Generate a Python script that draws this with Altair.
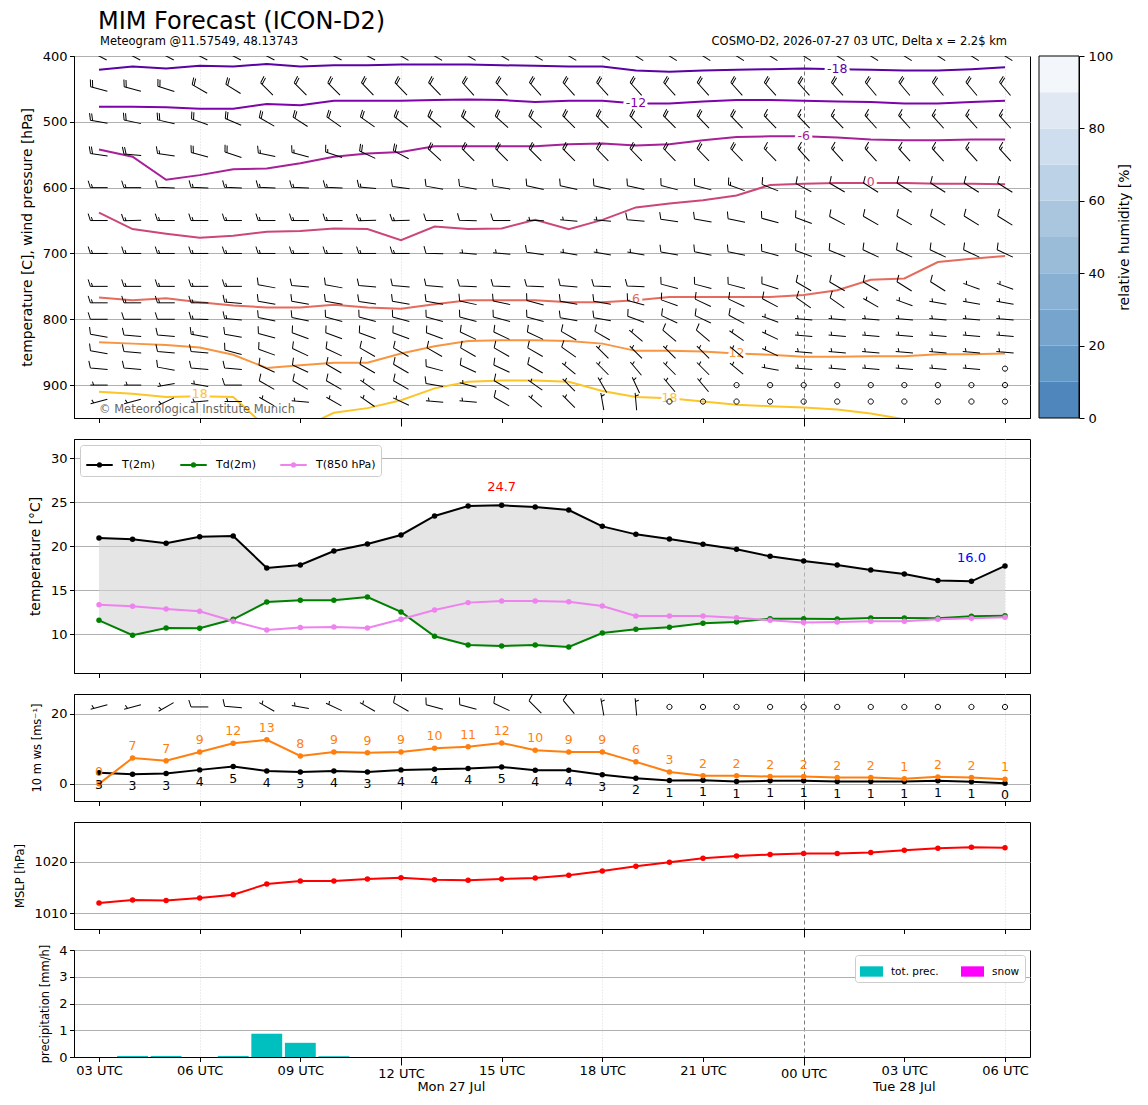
import altair as alt
import pandas as pd

# ------------------------------------------------------------------ data
HOURS = list(range(28))  # forecast hours after 2026-07-27 03 UTC
TICK_HOURS = [0, 3, 6, 9, 12, 15, 18, 21, 24, 27]
DATE_LABELS = ["Mon 27 Jul", "Tue 28 Jul"]
DATE_POS = [10.5, 24]

# panel 1: isotherms (pressure [hPa] of each isotherm per hour)
ISO_LEVELS = [-18, -12, -6, 0, 6, 12, 18]
ISO_M18 = [421, 416, 419, 415, 416, 412, 416, 414, 414, 413, 413, 413, 414, 415, 416, 416, 422, 424, 422, 421, 420, 419, 420, 421, 422, 422, 420, 417]
ISO_M12 = [477, 477, 478, 480, 480, 473, 475, 468, 468, 468, 467, 466, 467, 470, 468, 468, 472, 472, 469, 467, 467, 468, 469, 470, 472, 472, 470, 468]
ISO_M6 = [542, 553, 588, 581, 572, 571, 563, 553, 548, 546, 537, 537, 537, 537, 534, 533, 536, 534, 528, 523, 522, 522, 524, 527, 528, 528, 527, 527]
ISO_0 = [638, 663, 670, 676, 673, 667, 666, 662, 663, 680, 659, 663, 662, 649, 663, 649, 630, 624, 619, 612, 596, 594, 593, 593, 593, 594, 594, 595]
ISO_6 = [767, 771, 768, 774, 779, 782, 782, 778, 782, 784, 777, 771, 771, 771, 774, 774, 771, 766, 766, 766, 766, 763, 756, 740, 738, 713, 708, 704]
ISO_12 = [835, 837, 839, 843, 854, 874, 870, 866, 866, 852, 841, 833, 832, 832, 833, 837, 848, 848, 849, 852, 854, 857, 857, 856, 856, 853, 853, 852]
ISO_18 = [910, 913, 918, 917, 918, 965, 966, 942, 935, 923, 905, 895, 893, 893, 895, 909, 918, 920, 925, 930, 932, 934, 937, 943, 952, 956, 960, 963]
ISO_COLORS = ["#5b02a3", "#7e03a8", "#a62098", "#cb4679", "#e56b5d", "#f89540", "#fdc527"]

ISO_LABEL_TEXT = ["-18", "-12", "-6", "0", "6", "12", "18", "18"]
ISO_LABEL_H = [22, 16, 21, 23, 16, 19, 3, 17]
ISO_LABEL_P = [420, 472, 522, 592, 769, 851, 913, 920]
ISO_LABEL_COLORS = ["#5b02a3", "#7e03a8", "#a62098", "#cb4679", "#e56b5d", "#f89540", "#fdc527", "#fdc527"]

# panel 1: wind barbs (direction [deg], speed [kt]) per pressure level
BARB_LEVELS = [400, 450, 500, 550, 600, 650, 700, 750, 775, 800, 825, 850, 875, 900, 925]
WDIR_400 = [298, 298, 298, 298, 298, 298, 298, 298, 298, 300, 300, 300, 300, 300, 300, 300, 302, 302, 302, 302, 302, 302, 302, 302, 302, 302, 302, 302]
WSPD_400 = [20, 20, 20, 20, 20, 20, 20, 20, 20, 20, 20, 20, 20, 20, 20, 20, 20, 20, 20, 20, 20, 20, 20, 20, 20, 20, 20, 20]
WDIR_450 = [285, 285, 288, 300, 302, 315, 315, 315, 316, 316, 316, 318, 318, 318, 318, 318, 318, 318, 318, 318, 318, 318, 318, 320, 320, 320, 320, 320]
WSPD_450 = [20, 20, 20, 20, 20, 20, 20, 20, 20, 20, 20, 20, 20, 20, 20, 20, 20, 20, 20, 20, 20, 20, 20, 20, 20, 20, 20, 20]
WDIR_500 = [280, 282, 283, 290, 293, 300, 303, 305, 305, 308, 310, 310, 312, 312, 315, 315, 315, 315, 316, 316, 316, 316, 316, 318, 318, 318, 318, 318]
WSPD_500 = [20, 20, 20, 20, 20, 20, 20, 20, 20, 20, 20, 20, 20, 20, 20, 20, 20, 20, 20, 20, 15, 15, 15, 15, 15, 15, 15, 15]
WDIR_550 = [278, 275, 278, 285, 288, 282, 285, 288, 295, 298, 312, 315, 315, 315, 315, 316, 316, 316, 316, 316, 316, 318, 318, 318, 318, 318, 318, 318]
WSPD_550 = [20, 20, 15, 20, 20, 15, 15, 15, 20, 20, 20, 20, 20, 20, 20, 20, 20, 20, 20, 20, 15, 15, 15, 15, 15, 15, 15, 15]
WDIR_600 = [270, 270, 272, 272, 272, 272, 272, 272, 275, 278, 280, 280, 280, 282, 282, 283, 283, 285, 285, 290, 292, 298, 300, 302, 302, 302, 302, 302]
WSPD_600 = [15, 15, 10, 15, 15, 15, 15, 15, 15, 10, 10, 10, 10, 10, 10, 10, 10, 10, 10, 15, 10, 10, 10, 10, 10, 10, 10, 10]
WDIR_650 = [270, 268, 270, 270, 270, 270, 270, 270, 268, 268, 270, 272, 270, 272, 275, 275, 275, 278, 280, 282, 285, 290, 298, 300, 300, 302, 302, 302]
WSPD_650 = [15, 15, 15, 15, 15, 15, 15, 15, 15, 15, 10, 10, 10, 5, 5, 5, 10, 10, 10, 10, 10, 10, 10, 10, 10, 10, 10, 10]
WDIR_700 = [270, 270, 270, 270, 270, 270, 270, 270, 270, 270, 272, 275, 275, 278, 280, 280, 280, 280, 282, 282, 285, 290, 292, 295, 295, 295, 295, 295]
WSPD_700 = [15, 15, 15, 15, 15, 15, 15, 15, 15, 15, 10, 5, 5, 10, 5, 5, 5, 10, 10, 10, 10, 10, 10, 10, 10, 10, 10, 10]
WDIR_750 = [270, 270, 270, 270, 270, 280, 275, 280, 275, 275, 275, 272, 272, 272, 275, 272, 272, 285, 285, 285, 288, 300, 300, 300, 302, 302, 290, 290]
WSPD_750 = [15, 15, 15, 15, 15, 10, 10, 10, 10, 10, 10, 10, 10, 10, 10, 10, 10, 10, 10, 10, 10, 10, 10, 10, 10, 10, 5, 5]
WDIR_775 = [270, 270, 270, 270, 275, 280, 280, 280, 278, 280, 280, 282, 282, 285, 280, 280, 285, 290, 295, 295, 298, 305, 305, 300, 290, 280, 280, 280]
WSPD_775 = [15, 15, 15, 15, 15, 10, 10, 10, 10, 10, 10, 10, 10, 10, 10, 10, 10, 10, 10, 10, 10, 10, 10, 5, 5, 5, 5, 5]
WDIR_800 = [270, 270, 270, 272, 275, 282, 282, 285, 285, 285, 285, 285, 285, 285, 280, 280, 290, 295, 295, 298, 290, 275, 275, 275, 275, 275, 275, 275]
WSPD_800 = [10, 10, 10, 15, 15, 10, 10, 10, 10, 10, 10, 10, 10, 10, 10, 10, 10, 10, 10, 10, 5, 5, 5, 5, 5, 5, 5, 5]
WDIR_825 = [280, 275, 275, 280, 280, 285, 290, 290, 290, 290, 290, 295, 295, 295, 300, 300, 310, 310, 310, 305, 295, 275, 275, 275, 275, 275, 275, 275]
WSPD_825 = [10, 10, 10, 15, 10, 10, 10, 10, 10, 10, 10, 10, 10, 10, 10, 10, 5, 10, 10, 5, 5, 5, 5, 5, 5, 5, 5, 5]
WDIR_850 = [280, 275, 275, 275, 285, 290, 295, 295, 300, 300, 300, 300, 300, 300, 305, 315, 315, 315, 315, 310, 295, 275, 275, 275, 275, 275, 275, 275]
WSPD_850 = [10, 10, 10, 10, 10, 10, 10, 10, 10, 10, 10, 10, 10, 10, 10, 5, 5, 5, 5, 5, 5, 5, 5, 5, 5, 5, 5, 5]
WDIR_875 = [275, 275, 280, 275, 275, 295, 295, 300, 300, 300, 285, 295, 295, 300, 310, 315, 320, 315, 315, 310, 280, 275, 275, 275, 275, 275, 275, 0]
WSPD_875 = [10, 10, 10, 10, 10, 10, 10, 10, 10, 10, 10, 10, 10, 10, 5, 5, 5, 5, 5, 5, 5, 5, 5, 5, 5, 5, 5, 0]
WDIR_900 = [270, 270, 260, 280, 270, 300, 300, 300, 305, 300, 280, 285, 300, 305, 315, 330, 335, 320, 320, 0, 0, 0, 0, 0, 0, 0, 0, 0]
WSPD_900 = [5, 5, 5, 5, 10, 10, 10, 10, 5, 10, 10, 5, 10, 5, 5, 5, 5, 5, 5, 0, 0, 0, 0, 0, 0, 0, 0, 0]
WDIR_925 = [255, 255, 245, 265, 270, 300, 275, 300, 305, 295, 275, 275, 300, 310, 315, 350, 355, 0, 0, 0, 0, 0, 0, 0, 0, 0, 0, 0]
WSPD_925 = [5, 5, 5, 5, 5, 5, 5, 5, 5, 5, 5, 5, 10, 5, 5, 5, 5, 0, 0, 0, 0, 0, 0, 0, 0, 0, 0, 0]

# relative humidity colour bar
RH_EDGES = [0, 10, 20, 30, 40, 50, 60, 70, 80, 90, 100]
RH_COLORS = ["#4f87bc", "#6397c4", "#76a4cc", "#88b0d3", "#9bbcd9",
             "#aac6df", "#bcd3e7", "#cfdeee", "#e0e9f3", "#f3f7fb"]

# panel 2: temperatures [C]
T2M = [20.95, 20.8, 20.34, 21.1, 21.17, 17.54, 17.88, 19.47, 20.27, 21.29, 23.45, 24.58, 24.66, 24.47,
       24.13, 22.27, 21.36, 20.83, 20.23, 19.66, 18.86, 18.33, 17.88, 17.31, 16.86, 16.12, 16.02, 17.77]
TD2M = [11.59, 9.89, 10.72, 10.68, 11.7, 13.67, 13.86, 13.86, 14.24, 12.54, 9.77, 8.79, 8.67, 8.79,
        8.56, 10.15, 10.57, 10.8, 11.25, 11.4, 11.78, 11.78, 11.74, 11.86, 11.86, 11.82, 12.05, 12.12]
T850 = [13.37, 13.18, 12.88, 12.61, 11.48, 10.49, 10.76, 10.83, 10.72, 11.7, 12.77, 13.6, 13.79, 13.79,
        13.69, 13.22, 12.08, 12.08, 12.08, 11.89, 11.59, 11.33, 11.4, 11.48, 11.48, 11.7, 11.82, 11.93]
T_SERIES = ["T(2m)", "Td(2m)", "T(850 hPa)"]
T_COLORS = ["#000000", "#008000", "#ee82ee"]

# panel 3: 10 m wind [m/s]
WS10 = [3.2, 2.76, 2.95, 4.0, 4.95, 3.7, 3.4, 3.7, 3.4, 4.0, 4.2, 4.4, 4.85, 3.9,
        3.9, 2.6, 1.6, 0.95, 1.05, 0.67, 0.86, 0.86, 0.67, 0.67, 0.67, 0.86, 0.57, 0.2]
GUST10 = [0.0, 7.4, 6.6, 9.1, 11.6, 12.6, 8.0, 9.1, 8.9, 9.1, 10.2, 10.6, 11.7, 9.6,
          9.1, 9.1, 6.3, 3.4, 2.3, 2.3, 2.1, 2.1, 1.8, 1.8, 1.45, 2.0, 1.8, 1.3]
W10_DIR = [255, 255, 240, 270, 275, 300, 280, 295, 300, 300, 285, 285, 295, 315,
           320, 350, 355, 0, 0, 0, 0, 0, 0, 0, 0, 0, 0, 0]
W10_SPD = [5, 5, 5, 10, 10, 5, 5, 5, 5, 10, 10, 10, 10, 10, 10, 5, 5, 0, 0, 0, 0, 0, 0, 0, 0, 0, 0, 0]

# panel 4: MSLP [hPa]
MSLP = [1011.96, 1012.55, 1012.48, 1012.94, 1013.6, 1015.69, 1016.27, 1016.27, 1016.67, 1016.93,
        1016.54, 1016.41, 1016.67, 1016.86, 1017.39, 1018.24, 1019.15, 1019.93, 1020.72, 1021.18,
        1021.44, 1021.63, 1021.63, 1021.83, 1022.29, 1022.68, 1022.88, 1022.75]

# panel 5: precipitation [mm/h]
PRECIP = [0, 0.04, 0.04, 0, 0.04, 0.87, 0.53, 0.03, 0, 0, 0, 0, 0, 0,
          0, 0, 0, 0, 0, 0, 0, 0, 0, 0, 0, 0, 0, 0]
PREC_SERIES = ["tot. prec.", "snow"]
PREC_COLORS = ["#00bfbf", "#ff00ff"]

# ------------------------------------------------------------------ style / helpers
FONT = "DejaVu Sans"
W = 956
H1, H2, H3, H4, H5 = 362, 234, 107, 107, 107
XSCALE = alt.Scale(domain=[-0.745, 27.745], nice=False, zero=False)

STAFF = "M0,1L0,-1"
BARB_KEYS = ["0", "5", "10", "15", "20"]
BARB_PATHS = [
    "M0.3,0A0.3,0.3,0,1,1,-0.3,0A0.3,0.3,0,1,1,0.3,0Z",
    STAFF + "M0,-0.625L0.4,-0.75",
    STAFF + "M0,-1L0.8,-1.25",
    STAFF + "M0,-1L0.8,-1.25M0,-0.75L0.4,-0.875",
    STAFF + "M0,-1L0.8,-1.25M0,-0.75L0.8,-1",
]
BARB_SHAPE = alt.Scale(domain=BARB_KEYS, range=BARB_PATHS)
MAJOR = "datum.value == 9 || datum.value == 21"


def xe(field, labels=False):
    kw = dict(
        values=TICK_HOURS, title=None, labels=labels, grid=True, gridWidth=0.8,
        tickSize={"condition": {"test": MAJOR, "value": 8}, "value": 4.5},
        gridColor={"condition": {"test": "datum.value == 21", "value": "#555555"}, "value": "#d0d0d0"},
        gridDash={"condition": {"test": "datum.value == 21", "value": [4, 3]}, "value": [1, 2]},
        gridOpacity={"condition": {"test": "datum.value % 6 == 3", "value": 1}, "value": 0},
    )
    if labels:
        kw["labelExpr"] = "format((datum.value + 3) % 24, '02d') + ' UTC'"
    return alt.X(f"{field}:Q", scale=XSCALE, axis=alt.Axis(**kw))


def ye(field, domain, values, title, tsize, reverse=False):
    return alt.Y(
        f"{field}:Q",
        scale=alt.Scale(domain=domain, nice=False, zero=False, reverse=reverse),
        axis=alt.Axis(values=values, format="d", title=title, titleFontSize=tsize, grid=True),
    )


def barb_rows(hours, ys, dirs, spds):
    return [dict(h=h, y=y, dir=d, key=str(s)) for h, y, d, s in zip(hours, ys, dirs, spds)]


# ------------------------------------------------------------------ panel 1
iso_arrays = [ISO_M18, ISO_M12, ISO_M6, ISO_0, ISO_6, ISO_12, ISO_18]
iso_rows = []
for lev, arr, col in zip(ISO_LEVELS, iso_arrays, ISO_COLORS):
    for h, p in zip(HOURS, arr):
        iso_rows.append(dict(h=h, p=p, level=lev, color=col))
iso_df = pd.DataFrame(iso_rows)
isolab_df = pd.DataFrame(dict(h=ISO_LABEL_H, p=ISO_LABEL_P, t=ISO_LABEL_TEXT, color=ISO_LABEL_COLORS))

wdirs = [WDIR_400, WDIR_450, WDIR_500, WDIR_550, WDIR_600, WDIR_650, WDIR_700, WDIR_750,
         WDIR_775, WDIR_800, WDIR_825, WDIR_850, WDIR_875, WDIR_900, WDIR_925]
wspds = [WSPD_400, WSPD_450, WSPD_500, WSPD_550, WSPD_600, WSPD_650, WSPD_700, WSPD_750,
         WSPD_775, WSPD_800, WSPD_825, WSPD_850, WSPD_875, WSPD_900, WSPD_925]
b_rows = []
for lev, dd, ss in zip(BARB_LEVELS, wdirs, wspds):
    b_rows += barb_rows(HOURS, [lev] * len(HOURS), dd, ss)
barb_df = pd.DataFrame(b_rows)

Y1 = dict(domain=[400, 950], values=[400, 500, 600, 700, 800, 900],
          title="temperature [C], wind pressure [hPa]", tsize=13.9, reverse=True)

lines1 = alt.Chart(iso_df).mark_line(strokeWidth=2, clip=True).encode(
    x=xe("h"), y=ye("p", **Y1), detail="level:N", color=alt.Color("color:N", scale=None))
halo1 = alt.Chart(isolab_df).mark_text(font=FONT, fontSize=12.5, color="white", stroke="white",
                                       strokeWidth=6, strokeJoin="round").encode(
    x=xe("h"), y=ye("p", **Y1), text="t:N")
lab1 = alt.Chart(isolab_df).mark_text(font=FONT, fontSize=12.5).encode(
    x=xe("h"), y=ye("p", **Y1), text="t:N", color=alt.Color("color:N", scale=None))
barbs1 = alt.Chart(barb_df).mark_point(filled=False, color="black", strokeWidth=1, opacity=1, clip=True).encode(
    x=xe("h"), y=ye("y", **Y1),
    shape=alt.Shape("key:N", scale=BARB_SHAPE, legend=None),
    angle=alt.Angle("dir:Q", scale=None), size=alt.value(300))
copy1 = alt.Chart(pd.DataFrame(dict(h=[0], p=[938], t=["\u00a9 Meteorological Institute Munich"]))).mark_text(
    font=FONT, fontSize=11.5, align="left", baseline="middle", color="#555555", opacity=0.9).encode(
    x=xe("h"), y=ye("p", **Y1), text="t:N")
title1 = alt.Chart(pd.DataFrame(dict(t=["MIM Forecast (ICON-D2)"]))).mark_text(
    font=FONT, fontSize=24, align="left", baseline="alphabetic").encode(
    x=alt.value(24), y=alt.value(-27), text="t:N")
subl1 = alt.Chart(pd.DataFrame(dict(t=["Meteogram @11.57549, 48.13743"]))).mark_text(
    font=FONT, fontSize=11.5, align="left", baseline="alphabetic").encode(
    x=alt.value(26), y=alt.value(-11), text="t:N")
subr1 = alt.Chart(pd.DataFrame(dict(t=["COSMO-D2, 2026-07-27 03 UTC, Delta x = 2.2$ km"]))).mark_text(
    font=FONT, fontSize=11.5, align="right", baseline="alphabetic").encode(
    x=alt.value(933), y=alt.value(-11), text="t:N")

cb_df = pd.DataFrame(dict(lo=RH_EDGES[:-1], hi=RH_EDGES[1:], col=RH_COLORS))
cb_axis = alt.Axis(orient="right", offset=49, values=[0, 20, 40, 60, 80, 100], title="relative humidity [%]",
                   titleAngle=270, titleBaseline="top", titleFontSize=13.9, grid=False,
                   tickSize=5, labelPadding=4, titlePadding=5)
cb_scale = alt.Scale(domain=[0, 100], nice=False, zero=False)
cbar = alt.Chart(cb_df).mark_rect().encode(
    x=alt.value(965), x2=alt.value(1005),
    y=alt.Y("lo:Q", scale=cb_scale, axis=cb_axis), y2="hi:Q",
    color=alt.Color("col:N", scale=None))
cframe = alt.Chart(pd.DataFrame(dict(lo=[0], hi=[100]))).mark_rect(fillOpacity=0, stroke="black", strokeWidth=1).encode(
    x=alt.value(965), x2=alt.value(1005),
    y=alt.Y("lo:Q", scale=cb_scale, axis=cb_axis), y2="hi:Q")

p1 = alt.layer(
    alt.layer(lines1, halo1, lab1, barbs1, copy1, title1, subl1, subr1),
    alt.layer(cbar, cframe),
).resolve_scale(y="independent").properties(width=W, height=H1)

# ------------------------------------------------------------------ panel 2
Y2 = dict(domain=[5.6, 32.2], values=[10, 15, 20, 25, 30], title="temperature [\u00b0C]", tsize=13.9)
t_rows = []
for name, arr in zip(T_SERIES, [T2M, TD2M, T850]):
    for h, v in zip(HOURS, arr):
        t_rows.append(dict(h=h, v=v, s=name))
t_df = pd.DataFrame(t_rows)
band_df = pd.DataFrame(dict(h=HOURS, t=T2M, td=TD2M))

t_legend = alt.Legend(
    title=None, orient="top-left", direction="horizontal", offset=6, padding=5,
    fillColor="white", strokeColor="#cccccc", cornerRadius=3,
    symbolType="M-1,0L1,0M0.12,0A0.12,0.12,0,1,1,-0.12,0A0.12,0.12,0,1,1,0.12,0",
    symbolSize=700, symbolStrokeWidth=2, labelFontSize=11, labelFont=FONT,
    columnPadding=20, labelOffset=8)
t_color = alt.Color("s:N", scale=alt.Scale(domain=T_SERIES, range=T_COLORS), legend=t_legend)

band = alt.Chart(band_df).mark_area(color="lightgrey", opacity=0.6).encode(
    x=xe("h"), y=ye("t", **Y2), y2="td:Q")
lines2 = alt.Chart(t_df).mark_line(strokeWidth=2).encode(x=xe("h"), y=ye("v", **Y2), color=t_color)
pts2 = alt.Chart(t_df).mark_circle(size=30, opacity=1).encode(x=xe("h"), y=ye("v", **Y2), color=t_color)

imax = T2M.index(max(T2M))
imin = T2M.index(min(T2M))
max_df = pd.DataFrame(dict(h=[imax], v=[T2M[imax]], t=[f"{T2M[imax]:.1f}"]))
min_df = pd.DataFrame(dict(h=[imin], v=[T2M[imin]], t=[f"{T2M[imin]:.1f}"]))
maxlab = alt.Chart(max_df).mark_text(font=FONT, fontSize=13, color="red", dy=-18).encode(
    x=xe("h"), y=ye("v", **Y2), text="t:N")
minlab = alt.Chart(min_df).mark_text(font=FONT, fontSize=13, color="blue", dy=-23).encode(
    x=xe("h"), y=ye("v", **Y2), text="t:N")

p2 = alt.layer(band, lines2, pts2, maxlab, minlab).properties(width=W, height=H2)

# ------------------------------------------------------------------ panel 3
Y3 = dict(domain=[-4.9, 25.7], values=[0, 20], title="10 m ws [ms\u207b\u00b9]", tsize=11.5)
w_df = pd.DataFrame(dict(h=HOURS, ws=WS10, g=GUST10))
b10_df = pd.DataFrame(barb_rows(HOURS, [0] * len(HOURS), W10_DIR, W10_SPD))

ws_line = alt.Chart(w_df).mark_line(strokeWidth=2, color="black").encode(x=xe("h"), y=ye("ws", **Y3))
ws_pts = alt.Chart(w_df).mark_circle(size=30, opacity=1, color="black").encode(x=xe("h"), y=ye("ws", **Y3))
g_line = alt.Chart(w_df).mark_line(strokeWidth=2, color="#ff7f0e").encode(x=xe("h"), y=ye("g", **Y3))
g_pts = alt.Chart(w_df).mark_circle(size=30, opacity=1, color="#ff7f0e").encode(x=xe("h"), y=ye("g", **Y3))
ws_lab = alt.Chart(w_df).mark_text(font=FONT, fontSize=12.5, color="black", dy=12, baseline="middle").encode(
    x=xe("h"), y=ye("ws", **Y3), text=alt.Text("ws:Q", format=".0f"))
g_lab = alt.Chart(w_df).mark_text(font=FONT, fontSize=12.5, color="#ff7f0e", dy=-12, baseline="middle").encode(
    x=xe("h"), y=ye("g", **Y3), text=alt.Text("g:Q", format=".0f"))
barbs3 = alt.Chart(b10_df).transform_calculate(yb="22").mark_point(
    filled=False, color="black", strokeWidth=1, opacity=1, clip=True).encode(
    x=xe("h"), y=ye("yb", **Y3),
    shape=alt.Shape("key:N", scale=BARB_SHAPE, legend=None),
    angle=alt.Angle("dir:Q", scale=None), size=alt.value(300))

p3 = alt.layer(ws_line, ws_pts, g_line, g_pts, ws_lab, g_lab, barbs3).properties(width=W, height=H3)

# ------------------------------------------------------------------ panel 4
Y4 = dict(domain=[1006.9, 1027.8], values=[1010, 1020], title="MSLP [hPa]", tsize=11.5)
p_df = pd.DataFrame(dict(h=HOURS, p=MSLP))
p4 = alt.layer(
    alt.Chart(p_df).mark_line(strokeWidth=2, color="red").encode(x=xe("h"), y=ye("p", **Y4)),
    alt.Chart(p_df).mark_circle(size=30, opacity=1, color="red").encode(x=xe("h"), y=ye("p", **Y4)),
).properties(width=W, height=H4)

# ------------------------------------------------------------------ panel 5
Y5 = dict(domain=[0, 4], values=[0, 1, 2, 3, 4], title="precipitation [mm/h]", tsize=11.5)
pr_df = pd.DataFrame(dict(h=HOURS, pr=PRECIP, s=["tot. prec."] * len(HOURS)))
pr_legend = alt.Legend(
    title=None, orient="top-right", direction="horizontal", offset=5, padding=5,
    fillColor="white", strokeColor="#cccccc", cornerRadius=3,
    symbolType="M-1,-0.45L1,-0.45L1,0.45L-1,0.45Z", symbolSize=529, symbolStrokeWidth=0,
    labelFontSize=10.5, labelFont=FONT, columnPadding=22, labelOffset=8)
bars = alt.Chart(pr_df).transform_filter("datum.pr > 0").transform_calculate(
    x0="datum.h - 0.46", x1="datum.h + 0.46", base="0").mark_rect(opacity=1).encode(
    x=xe("x0", labels=True), x2="x1:Q", y=ye("pr", **Y5), y2="base:Q",
    color=alt.Color("s:N", scale=alt.Scale(domain=PREC_SERIES, range=PREC_COLORS), legend=pr_legend))
date_df = pd.DataFrame(dict(h=DATE_POS, t=DATE_LABELS))
dates = alt.Chart(date_df).mark_text(font=FONT, fontSize=13, baseline="middle").encode(
    x=xe("h", labels=True), y=alt.value(H5 + 30), text="t:N")

p5 = alt.layer(bars, dates).properties(width=W, height=H5)

# ------------------------------------------------------------------ assemble
chart = alt.vconcat(p1, p2, p3, p4, p5, spacing=21, bounds="flush").resolve_scale(
    color="independent", shape="independent"
).properties(
    padding={"left": 6, "top": 1, "right": 4, "bottom": 4}
).configure_view(
    stroke="black", strokeWidth=1
).configure_axis(
    labelFont=FONT, titleFont=FONT, labelFontSize=13, titleFontWeight="normal",
    domainColor="black", tickColor="black", labelColor="black", titleColor="black",
    gridColor="#b0b0b0", gridWidth=1, tickSize=4.5, labelPadding=2.5, titlePadding=8,
)

chart.save("out.html", embed_options={"renderer": "svg", "actions": False})
